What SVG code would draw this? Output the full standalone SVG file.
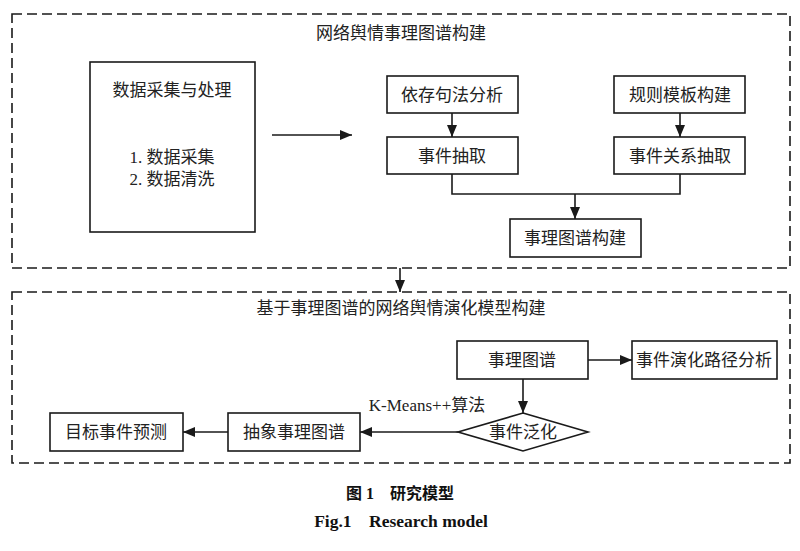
<svg xmlns="http://www.w3.org/2000/svg" width="800" height="551" viewBox="0 0 800 551">
<defs>
<marker id="ah" markerWidth="12" markerHeight="10" refX="12" refY="5" orient="auto" markerUnits="userSpaceOnUse">
<path d="M0,0 L12,5 L0,10 Z" fill="#1a1a1a"/>
</marker>
<style>
.box{fill:#fff;stroke:#1a1a1a;stroke-width:1.6}
.dash{fill:none;stroke:#1a1a1a;stroke-width:1.6;stroke-dasharray:10,5}
.t{font-family:"Liberation Serif","Noto Sans CJK SC",serif;font-size:17px;fill:#222;text-anchor:middle;dominant-baseline:central}
.c{stroke:#1a1a1a;stroke-width:1.6;fill:none}
.cap{font-family:"Liberation Serif","Noto Sans CJK SC",serif;font-size:16px;font-weight:bold;fill:#111;text-anchor:middle}
</style>
</defs>
<rect width="800" height="551" fill="#fff"/>
<g id="stage1">
<rect class="dash" x="12" y="14" width="778" height="254"/>
<text class="t" x="401" y="33">网络舆情事理图谱构建</text>
</g>
<g id="stage2">
<rect class="dash" x="12" y="292" width="778" height="171"/>
<text class="t" x="401" y="308">基于事理图谱的网络舆情演化模型构建</text>
</g>
<g id="data">
<rect class="box" x="90" y="62" width="165" height="170"/>
<text class="t" x="172" y="90">数据采集与处理</text>
<text class="t" x="172" y="157">1. 数据采集</text>
<text class="t" x="172" y="179">2. 数据清洗</text>
</g>
<g id="dep">
<rect class="box" x="387" y="76" width="131" height="37"/>
<text class="t" x="452" y="95">依存句法分析</text>
</g>
<g id="evext">
<rect class="box" x="387" y="137" width="131" height="37"/>
<text class="t" x="452" y="156">事件抽取</text>
</g>
<g id="rule">
<rect class="box" x="614" y="76" width="131" height="37"/>
<text class="t" x="680" y="95">规则模板构建</text>
</g>
<g id="relext">
<rect class="box" x="614" y="137" width="131" height="37"/>
<text class="t" x="680" y="156">事件关系抽取</text>
</g>
<g id="build">
<rect class="box" x="510" y="219" width="131" height="38"/>
<text class="t" x="575" y="238">事理图谱构建</text>
</g>
<g id="eg">
<rect class="box" x="457" y="341" width="131" height="38"/>
<text class="t" x="522" y="360">事理图谱</text>
</g>
<g id="path">
<rect class="box" x="632" y="341" width="145" height="38"/>
<text class="t" x="704" y="360">事件演化路径分析</text>
</g>
<g id="gen">
<polygon class="box" points="523,413 588,432 523,451 458,432"/>
<text class="t" x="523" y="432">事件泛化</text>
</g>
<g id="abs">
<rect class="box" x="228" y="413" width="132" height="38"/>
<text class="t" x="294" y="432">抽象事理图谱</text>
</g>
<g id="pred">
<rect class="box" x="50" y="413" width="133" height="38"/>
<text class="t" x="116" y="432">目标事件预测</text>
</g>
<g id="connectors">
<line class="c" x1="272" y1="135" x2="352" y2="135" marker-end="url(#ah)"/>
<line class="c" x1="452" y1="113" x2="452" y2="137" marker-end="url(#ah)"/>
<line class="c" x1="680" y1="113" x2="680" y2="137" marker-end="url(#ah)"/>
<polyline class="c" points="452,174 452,194 680,194 680,174"/>
<line class="c" x1="575" y1="194" x2="575" y2="219" marker-end="url(#ah)"/>
<line class="c" x1="400" y1="268" x2="400" y2="292" marker-end="url(#ah)"/>
<line class="c" x1="588" y1="360" x2="632" y2="360" marker-end="url(#ah)"/>
<line class="c" x1="523" y1="379" x2="523" y2="413" marker-end="url(#ah)"/>
<line class="c" x1="458" y1="432" x2="360" y2="432" marker-end="url(#ah)"/>
<line class="c" x1="228" y1="432" x2="183" y2="432" marker-end="url(#ah)"/>
<text class="t" x="427" y="405">K-Means++算法</text>
</g>
<g id="caption">
<text class="cap" x="400" y="499">图 1　研究模型</text>
<text class="cap" x="401" y="527" style="font-size:17.5px">Fig.1　Research model</text>
</g>
</svg>
